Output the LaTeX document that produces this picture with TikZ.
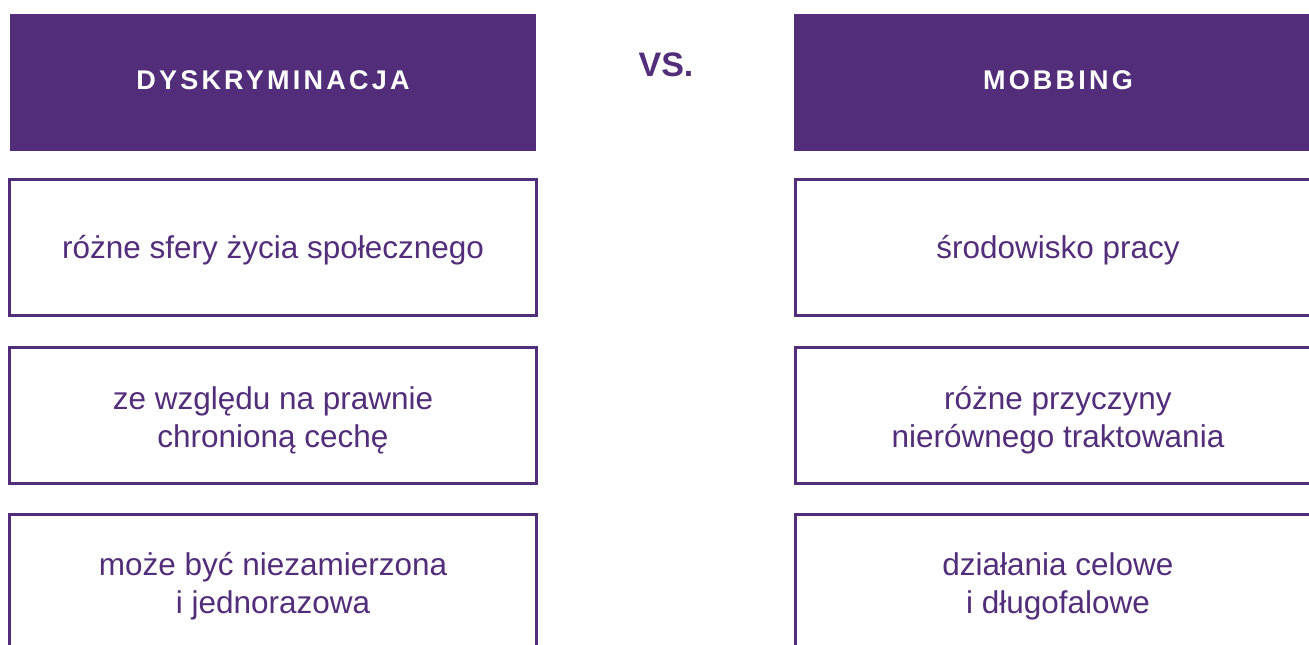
\documentclass[tikz,border=0pt]{standalone}
\usepackage{fontspec}
\setmainfont{Liberation Sans}
\newfontfamily\hdfont[LetterSpace=12]{Liberation Sans}
\definecolor{mpurple}{HTML}{522D7A}
\begin{document}
\begin{tikzpicture}[x=1pt,y=-1pt,
  header/.style={fill=mpurple,draw=none,text=white,anchor=base,font=\hdfont\fontsize{27}{30}\selectfont\bfseries},
  cell/.style={draw=mpurple,line width=2.6pt,fill=none},
  celltext/.style={text=mpurple,align=center,font=\fontsize{31.5}{38}\selectfont}]
\useasboundingbox (0,0) rectangle (1309,645);
\clip (0,0) rectangle (1309,645);
% left column
\fill[mpurple] (10,14) rectangle (536,151);
\node[header] (hl) at (273,89.5) {DYSKRYMINACJA};
\draw[cell] (9.3,179.3) rectangle (536.7,315.7);
\node[celltext] (l1) at (273,250) {różne sfery życia społecznego};
\draw[cell] (9.3,347.3) rectangle (536.7,483.7);
\node[celltext] (l2) at (273,420) {ze względu na prawnie\\chronioną cechę};
\draw[cell] (9.3,514.3) rectangle (536.7,660);
\node[celltext] (l3) at (273,586) {może być niezamierzona\\i jednorazowa};
% vs
\node[text=mpurple,font=\fontsize{34}{40}\selectfont\bfseries] (vs) at (666,65) {VS.};
% right column
\fill[mpurple] (794,14) rectangle (1320,151);
\node[header] (hr) at (1058,89.5) {MOBBING};
\draw[cell] (795.3,179.3) rectangle (1322,315.7);
\node[celltext] (r1) at (1058,250) {środowisko pracy};
\draw[cell] (795.3,347.3) rectangle (1322,483.7);
\node[celltext] (r2) at (1058,420) {różne przyczyny\\nierównego traktowania};
\draw[cell] (795.3,514.3) rectangle (1322,660);
\node[celltext] (r3) at (1058,586) {działania celowe\\i długofalowe};
\end{tikzpicture}
\end{document}
